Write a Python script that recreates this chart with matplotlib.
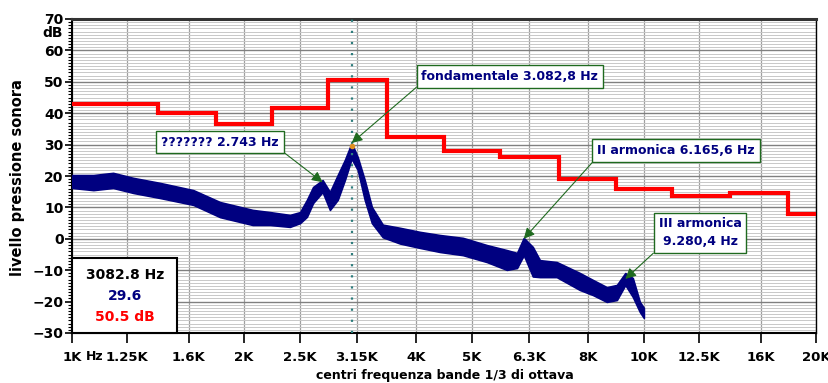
import numpy as np
import matplotlib
matplotlib.use('Agg')
import matplotlib.pyplot as plt
from matplotlib.patches import Rectangle
from matplotlib.ticker import FixedLocator, MultipleLocator, NullFormatter

# bande 1/3 di ottava (valori nominali) e livelli di banda in dB
band_centers = [1000, 1250, 1600, 2000, 2500, 3150, 4000, 5000, 6300,
                8000, 10000, 12500, 16000, 20000]
band_labels = ['1K', '1.25K', '1.6K', '2K', '2.5K', '3.15K', '4K', '5K',
               '6.3K', '8K', '10K', '12.5K', '16K', '20K']
band_levels = [43, 43, 40, 36.5, 41.5, 50.5, 32.5, 28, 26, 19, 16, 13.5,
               14.5, 8]

# spettro in banda stretta: inviluppo superiore e inferiore della traccia
spec_freq = [1000, 1090, 1180, 1280, 1425, 1630, 1815, 2070, 2220, 2405,
             2505, 2575, 2640, 2743, 2825, 2915, 3000, 3083, 3160, 3250,
             3345, 3495, 3745, 4060, 4400, 4825, 5315, 5760, 6000, 6166,
             6395, 6580, 7040, 7730, 8145, 8615, 8970, 9280, 9565, 9840,
             10000]
spec_upper = [20.3, 20.3, 21.0, 19.4, 17.8, 15.5, 11.7, 9.2, 8.5, 7.6,
              8.5, 12.4, 16.5, 18.7, 14.9, 20.3, 25.1, 30.5, 26.0, 18.7,
              10.1, 4.5, 3.5, 2.2, 1.2, 0.3, -2.0, -3.6, -4.5, 0.3,
              -2.6, -6.8, -7.4, -10.9, -13.1, -15.4, -14.7, -10.9, -12.5,
              -20.1, -22.0]
spec_lower = [16.2, 15.5, 16.2, 14.6, 13.0, 10.8, 6.9, 4.4, 4.4, 3.8,
              5.0, 7.0, 11.4, 14.9, 9.2, 12.4, 18.7, 25.5, 21.9, 12.4,
              5.0, 0.5, -1.5, -2.9, -4.2, -5.2, -7.4, -9.9, -9.3, -5.2,
              -12.0, -12.2, -12.2, -16.3, -17.9, -20.1, -19.5, -14.7,
              -18.5, -23.3, -25.2]

# cursore e picchi annotati
cursor_freq = 3082.8
cursor_level = 29.6
cursor_band_level = 50.5
peaks = [
    ('??????? 2.743 Hz', 2743, 18.0, 1815, 30.8, (1, 0)),
    ('fondamentale 3.082,8 Hz', 3082.8, 30.5, 5830, 51.7, (0, 0)),
    ('II armonica 6.165,6 Hz', 6165.6, 0.0, 11380, 28.1, (0, 0)),
    ('III armonica\n9.280,4 Hz', 9280.4, -12.8, 12540, 1.9, (0, 0)),
]

NAVY = '#000080'
GREEN = '#1f6a1f'
FONT = 'DejaVu Sans'

fig = plt.figure(figsize=(8.29, 3.83), dpi=100)
ax = fig.add_axes([72 / 829, 1 - 333 / 383, 744 / 829, 314 / 383])
ax.set_xscale('log')
ax.set_xlim(1000, 20000)
ax.set_ylim(-30, 70)

# griglia: verticali sulle bande, orizzontali ogni 1 dB e ogni 10 dB
ax.xaxis.set_major_locator(FixedLocator(band_centers))
ax.xaxis.set_minor_locator(FixedLocator([]))
ax.set_xticklabels(band_labels)
ax.xaxis.set_minor_formatter(NullFormatter())
ax.yaxis.set_major_locator(MultipleLocator(10))
ax.yaxis.set_minor_locator(MultipleLocator(1))
ax.grid(True, which='minor', axis='y', color='#c8c8c8', lw=0.7)
ax.grid(True, which='major', axis='y', color='#808080', lw=1.0)
ax.grid(True, which='major', axis='x', color='#a0a0a0', lw=0.9)
ax.set_axisbelow(True)

ax.tick_params(axis='x', which='major', length=7, width=1.2, pad=6,
               labelsize=9.5)
ax.tick_params(axis='y', which='major', length=5, width=1.2, pad=1,
               labelsize=10)
ax.tick_params(axis='y', which='minor', length=3, width=0.8)
for lab in ax.get_xticklabels() + ax.get_yticklabels():
    lab.set_fontweight('bold')
    lab.set_family(FONT)

for side in ('left', 'bottom'):
    ax.spines[side].set_linewidth(1.5)
ax.spines['top'].set_linewidth(2.2)
ax.spines['top'].set_color('#333333')
ax.spines['right'].set_linewidth(1.0)
ax.spines['right'].set_linestyle((0, (1, 1)))

# livelli di banda: gradini con bordi alla media geometrica tra i centri
fc = np.array(band_centers, dtype=float)
edges = np.sqrt(fc[:-1] * fc[1:])
xs = np.concatenate(([fc[0]], np.repeat(edges, 2), [fc[-1]]))
ys = np.repeat(band_levels, 2)
ax.plot(xs, ys, color='#ff0000', lw=3, solid_joinstyle='miter', zorder=3)

# spettro in banda stretta
ax.fill_between(spec_freq, spec_lower, spec_upper, color=NAVY, lw=1.2,
                edgecolor=NAVY, zorder=4)

# cursore
ax.axvline(cursor_freq, color='#2e7d7d', lw=1.6, ls=(0, (1, 4)), zorder=5)
ax.plot([cursor_freq], [cursor_level], 'o', ms=3, color='#e09020', zorder=6)

for text, fx, fy, tx, ty, rp in peaks:
    ax.annotate(text, xy=(fx, fy), xytext=(tx, ty), ha='center',
                va='center', fontsize=9, fontweight='bold', color=NAVY,
                family=FONT, multialignment='center', zorder=8,
                linespacing=1.5,
                bbox=dict(boxstyle='square,pad=0.38', fc='white',
                          ec=GREEN, lw=1),
                arrowprops=dict(arrowstyle='-|>', color=GREEN, lw=0.8,
                                mutation_scale=16, relpos=rp,
                                shrinkA=0, shrinkB=0))

# riquadro lettura cursore
ax.add_patch(Rectangle((0, 0), 0.141, 0.239, transform=ax.transAxes,
                       fc='white', ec='black', lw=1.5, zorder=9,
                       clip_on=False))
info = [(f'{cursor_freq:.1f} Hz', 'black', 0.185),
        (f'{cursor_level:.1f}', NAVY, 0.118),
        (f'{cursor_band_level:.1f} dB', '#ff0000', 0.051)]
for s, c, yy in info:
    ax.text(0.071, yy, s, transform=ax.transAxes, ha='center', va='center',
            fontsize=10, fontweight='bold', color=c, family=FONT, zorder=10)

# etichette assi
ax.text(-0.012, 0.955, 'dB', transform=ax.transAxes, ha='right',
        va='center', fontsize=10, fontweight='bold', family=FONT)
fig.text(86 / 829, 1 - 356 / 383, 'Hz', ha='left', va='center',
         fontsize=9, fontweight='bold', family=FONT)
fig.text(18 / 829, 1 - 178 / 383, 'livello pressione sonora',
         rotation=90, ha='center', va='center', fontsize=10.5,
         fontweight='bold', family=FONT)
fig.text(445 / 829, 1 - 375 / 383, 'centri frequenza bande 1/3 di ottava',
         ha='center', va='center', fontsize=9, fontweight='bold',
         family=FONT)

fig.savefig('out.png', dpi=100)
